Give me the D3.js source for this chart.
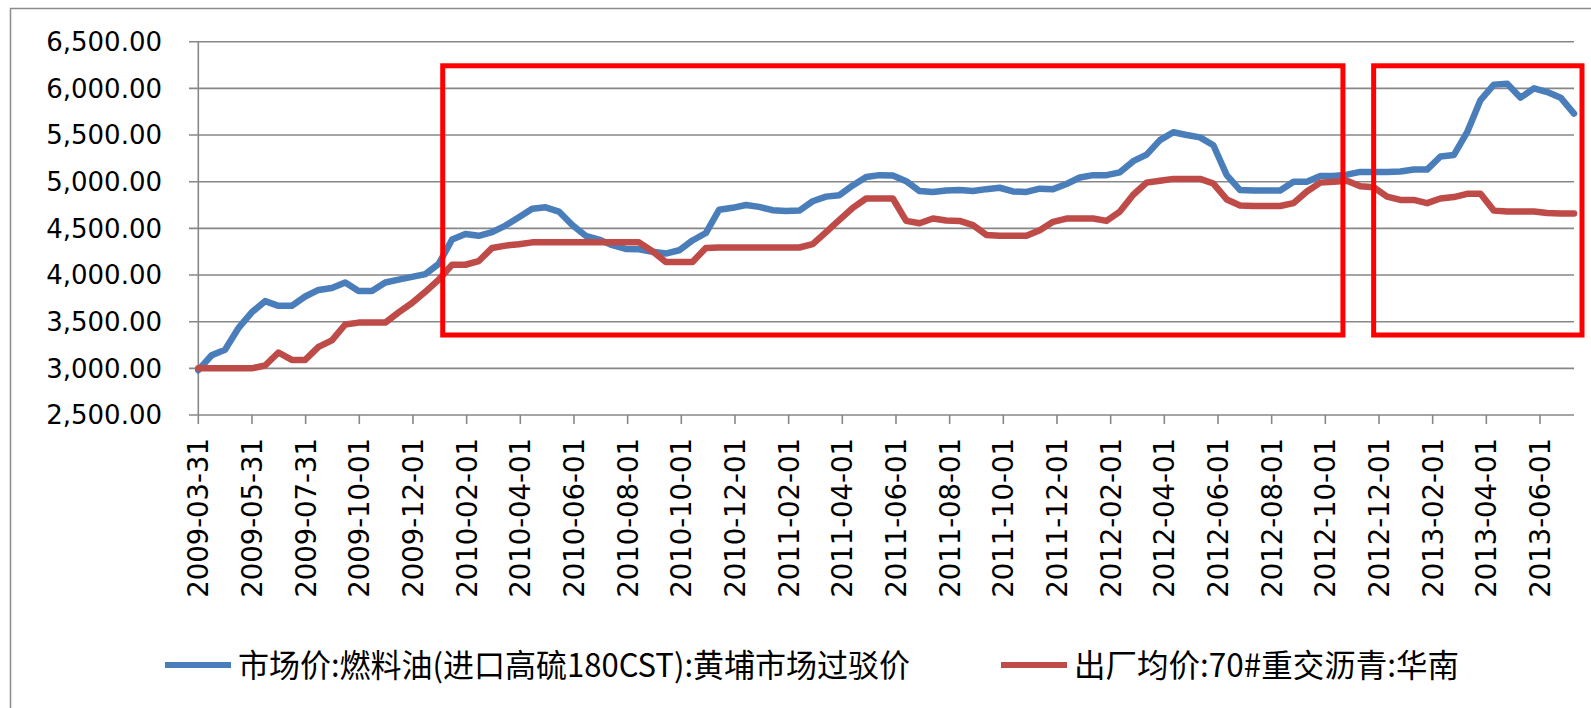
<!DOCTYPE html>
<html lang="zh">
<head>
<meta charset="utf-8">
<title>燃料油与沥青价格</title>
<script src="https://cdn.jsdelivr.net/npm/d3@7"></script>
<style>
  body { margin: 0; background: #fff; }
  svg { display: block; }
  .grid line { stroke: #878787; stroke-width: 1.6px; }
  .ylab { font: 26px "DejaVu Sans", sans-serif; fill: #000; }
  .xlab { font: 27.5px "DejaVu Sans", sans-serif; fill: #000; }
  .legend text { font: 32px "Noto Sans CJK SC", sans-serif; fill: #000; }
</style>
</head>
<body>
<svg width="1591" height="708"></svg>
<script>
// x-axis labels (Excel category axis)
var tickLabels = ["2009-03-31","2009-05-31","2009-07-31","2009-10-01","2009-12-01",
  "2010-02-01","2010-04-01","2010-06-01","2010-08-01","2010-10-01","2010-12-01",
  "2011-02-01","2011-04-01","2011-06-01","2011-08-01","2011-10-01","2011-12-01",
  "2012-02-01","2012-04-01","2012-06-01","2012-08-01","2012-10-01","2012-12-01",
  "2013-02-01","2013-04-01","2013-06-01"];

var yTicks = [2500, 3000, 3500, 4000, 4500, 5000, 5500, 6000, 6500];

var seriesNames = ["市场价:燃料油(进口高硫180CST):黄埔市场过驳价", "出厂均价:70#重交沥青:华南"];

var fuelOil = [2980,3140,3200,3430,3600,3720,3670,3670,3770,3840,
  3860,3920,3830,3830,3920,3950,3980,4010,4120,4380,
  4440,4420,4460,4530,4620,4710,4725,4680,4535,4420,
  4380,4320,4280,4275,4250,4230,4265,4370,4450,4700,
  4720,4750,4730,4695,4685,4690,4790,4840,4855,4960,
  5050,5070,5065,5005,4900,4890,4905,4910,4900,4920,
  4935,4895,4890,4925,4920,4975,5045,5070,5070,5100,
  5220,5290,5445,5530,5500,5475,5390,5070,4910,4905,
  4905,4905,5000,5000,5060,5060,5075,5105,5105,5105,
  5110,5130,5130,5270,5285,5530,5875,6040,6050,5900,
  6000,5960,5900,5730];

var asphalt = [3000,3000,3000,3000,3000,3030,3170,3090,3090,3230,
  3300,3470,3490,3490,3490,3600,3700,3820,3950,4110,
  4110,4150,4290,4315,4330,4350,4350,4350,4350,4350,
  4350,4350,4350,4350,4255,4140,4140,4140,4290,4295,
  4295,4295,4295,4295,4295,4295,4330,4460,4590,4720,
  4820,4820,4820,4580,4555,4605,4585,4580,4535,4430,
  4420,4420,4420,4480,4570,4605,4605,4605,4580,4680,
  4860,4990,5010,5030,5030,5030,4980,4810,4745,4740,
  4740,4740,4770,4895,4990,5000,5010,4950,4940,4840,
  4805,4805,4770,4820,4835,4870,4870,4690,4680,4680,
  4680,4665,4660,4660];

// highlight boxes, in sample index / price units
var boxes = [
  {i0: 18.3, i1: 85.7, v0: 3357, v1: 6242},
  {i0: 88.0, i1: 103.6, v0: 3357, v1: 6242}
];

var colors = ["#4a7ebb", "#be4b48"];

var svg = d3.select("svg");

// outer chart border
svg.append("rect")
  .attr("x", 10.5).attr("y", 8.5)
  .attr("width", 1600).attr("height", 720)
  .attr("fill", "none").attr("stroke", "#8c8c8c").attr("stroke-width", 1.5);

var plotL = 198.3, plotR = 1574, plotT = 41.7, plotB = 415;

var x = d3.scaleLinear().domain([0, fuelOil.length - 1]).range([plotL, plotR]);
var xt = d3.scalePoint().domain(tickLabels).range([plotL, 1540]);
var y = d3.scaleLinear().domain([2500, 6500]).range([plotB, plotT]);

// gridlines + y labels
var grid = svg.append("g").attr("class", "grid");
grid.selectAll("line.h").data(yTicks).enter().append("line")
  .attr("x1", 189).attr("x2", plotR)
  .attr("y1", function(d) { return y(d); })
  .attr("y2", function(d) { return y(d); });
grid.append("line")
  .attr("x1", plotL).attr("x2", plotL)
  .attr("y1", plotT).attr("y2", plotB);
grid.selectAll("line.t").data(tickLabels).enter().append("line")
  .attr("x1", function(d) { return xt(d); })
  .attr("x2", function(d) { return xt(d); })
  .attr("y1", plotB).attr("y2", plotB + 9);

svg.selectAll("text.ylab").data(yTicks).enter().append("text")
  .attr("class", "ylab")
  .attr("x", 162)
  .attr("y", function(d) { return y(d); })
  .attr("dy", "0.36em")
  .attr("text-anchor", "end")
  .text(d3.format(",.2f"));

svg.selectAll("text.xlab").data(tickLabels).enter().append("text")
  .attr("class", "xlab")
  .attr("transform", function(d) { return "translate(" + xt(d) + ",438) rotate(-90)"; })
  .attr("dy", "0.36em")
  .attr("text-anchor", "end")
  .text(function(d) { return d; });

// series
var line = d3.line()
  .x(function(d, i) { return x(i); })
  .y(function(d) { return y(d); });

[fuelOil, asphalt].forEach(function(s, k) {
  svg.append("path")
    .datum(s)
    .attr("fill", "none")
    .attr("stroke", colors[k])
    .attr("stroke-width", 6.5)
    .attr("stroke-linejoin", "round")
    .attr("stroke-linecap", "round")
    .attr("d", line);
});

// red highlight boxes
svg.selectAll("rect.box").data(boxes).enter().append("rect")
  .attr("x", function(d) { return x(d.i0); })
  .attr("y", function(d) { return y(d.v1); })
  .attr("width", function(d) { return x(d.i1) - x(d.i0); })
  .attr("height", function(d) { return y(d.v0) - y(d.v1); })
  .attr("fill", "none")
  .attr("stroke", "#ff0000")
  .attr("stroke-width", 5);

// legend (Excel squeezes the text a little)
var legendX = [165, 1001], legendW = [672, 385];
var leg = svg.append("g").attr("class", "legend");
seriesNames.forEach(function(name, k) {
  leg.append("line")
    .attr("x1", legendX[k]).attr("x2", legendX[k] + 66)
    .attr("y1", 665).attr("y2", 665)
    .attr("stroke", colors[k]).attr("stroke-width", 6);
  leg.append("text")
    .attr("x", legendX[k] + 73)
    .attr("y", 665)
    .attr("dy", "0.36em")
    .attr("textLength", legendW[k])
    .attr("lengthAdjust", "spacingAndGlyphs")
    .text(name);
});
</script>
</body>
</html>
